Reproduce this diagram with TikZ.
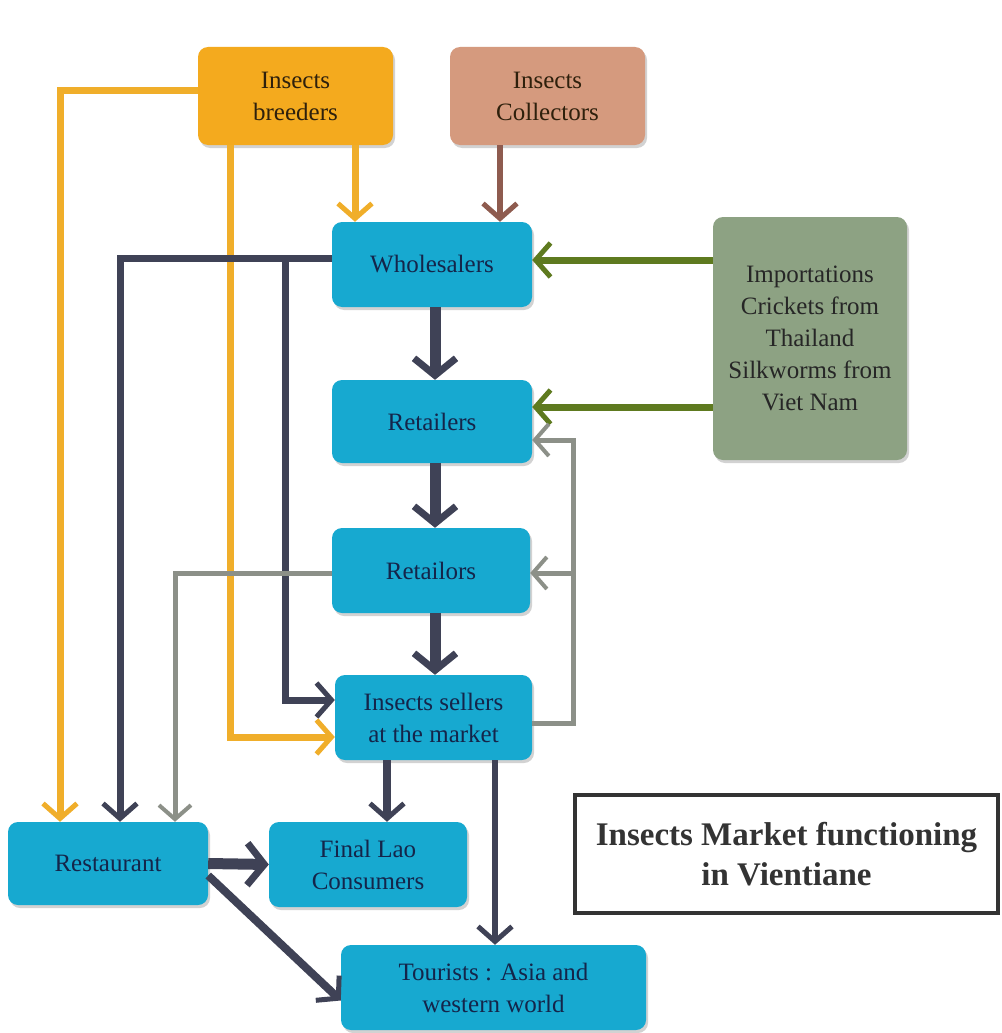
\documentclass[tikz,border=0pt]{standalone}
\usepackage{fontspec}
\setmainfont{Liberation Serif}
\usetikzlibrary{arrows.meta,shadows}
\definecolor{cyanbox}{HTML}{17A9D0}
\definecolor{orangebox}{HTML}{F4AA1E}
\definecolor{salmonbox}{HTML}{D59A7E}
\definecolor{sagebox}{HTML}{8DA283}
\definecolor{darkline}{HTML}{3F4256}
\definecolor{orangeline}{HTML}{F0AE2A}
\definecolor{brownline}{HTML}{8E5B4F}
\definecolor{greenline}{HTML}{5E7A1F}
\definecolor{greyline}{HTML}{8C9088}
\definecolor{navytext}{HTML}{14254A}
\definecolor{browntext}{HTML}{2E200C}
\definecolor{titlegrey}{HTML}{333333}
\begin{document}
\begin{tikzpicture}[x=1pt,y=-1pt,
  boxbase/.style={rounded corners=10pt, inner sep=0pt, align=center,
    font=\fontsize{25}{32}\selectfont,
    drop shadow={opacity=0.35, shadow xshift=2pt, shadow yshift=-3pt}},
  cbox/.style={boxbase, fill=cyanbox, text=navytext},
  obox/.style={boxbase, fill=orangebox, text=browntext},
  sbox/.style={boxbase, fill=salmonbox, text=browntext},
  gbox/.style={boxbase, fill=sagebox, text=black!85},
  tip/.style={-{Straight Barb[length=15pt,width=34pt,line width=5pt]}},
  bigtip/.style={-{Straight Barb[length=17pt,width=42pt,line width=7pt]}},
  thintip/.style={-{Straight Barb[length=14pt,width=32pt,line width=4pt]}},
  darkthick/.style={draw=darkline, line width=11pt, bigtip},
  darkmid/.style={draw=darkline, line width=7pt, tip},
  oline/.style={draw=orangeline, line width=7pt, tip},
  bline/.style={draw=brownline, line width=6pt, tip},
  gline/.style={draw=greenline, line width=7pt, tip},
  grline/.style={draw=greyline, line width=5pt, thintip},
]
\useasboundingbox (0,0) rectangle (1001,1033);
\fill[white] (0,0) rectangle (1001,1033);

% nodes
\node[obox, minimum width=195pt, minimum height=98pt] (breeders) at (295.5,96) {Insects\\breeders};
\node[sbox, minimum width=195pt, minimum height=98pt] (collectors) at (547.5,96) {Insects\\Collectors};
\node[cbox, minimum width=200pt, minimum height=85pt] (wholesalers) at (432,264.5) {Wholesalers};
\node[cbox, minimum width=200pt, minimum height=83pt] (ret1) at (432,421.5) {Retailers};
\node[cbox, minimum width=198pt, minimum height=85pt] (ret2) at (431,570.5) {Retailors};
\node[cbox, minimum width=197pt, minimum height=85pt] (sellers) at (433.5,717.5) {Insects sellers\\at the market};
\node[gbox, minimum width=194pt, minimum height=243pt] (import) at (810,338.5) {Importations\\Crickets from\\Thailand\\Silkworms from\\Viet Nam};
\node[cbox, minimum width=200pt, minimum height=83pt] (restaurant) at (108,863.5) {Restaurant};
\node[cbox, minimum width=198pt, minimum height=85pt] (final) at (368,864.5) {Final Lao\\Consumers};
\node[cbox, minimum width=305pt, minimum height=85pt] (tourists) at (493.5,987.5) {Tourists : Asia and\\western world};
\node[draw=titlegrey, line width=4pt, fill=white, minimum width=423pt, minimum height=118pt,
      inner sep=0pt, align=center, text=titlegrey,
      font=\fontsize{33}{40}\selectfont\bfseries] (title) at (786.5,854) {Insects Market functioning\\in Vientiane};

% bend coordinates
\coordinate (oL) at (60,90);
\coordinate (oD) at (355,0);
\coordinate (oS) at (230,737);
\coordinate (bD) at (500,0);
\coordinate (dL) at (120,258);
\coordinate (dS) at (285,700);
\coordinate (g1) at (0,260);
\coordinate (g2) at (0,407);
\coordinate (grT) at (573,440);
\coordinate (grM) at (573,573);
\coordinate (grB) at (573,723);
\coordinate (gL) at (175,573);
\coordinate (vC) at (435,0);
\coordinate (vF) at (387,0);
\coordinate (vT) at (495,0);

% orange connectors
\draw[oline] (breeders.west |- oL) -- (oL) -- (oL |- restaurant.north);
\draw[oline] (oD |- breeders.south) -- (oD |- wholesalers.north);
\draw[oline] (oS |- breeders.south) -- (oS) -- (oS -| sellers.west);
% brown
\draw[bline] (bD |- collectors.south) -- (bD |- wholesalers.north);
% dark from wholesalers to the left
\draw[darkmid] (wholesalers.west |- dL) -- (dL) -- (dL |- restaurant.north);
\draw[darkmid] (dS |- dL) -- (dS) -- (dS -| sellers.west);
% green
\draw[gline] (import.west |- g1) -- (wholesalers.east |- g1);
\draw[gline] (import.west |- g2) -- (ret1.east |- g2);
% grey
\draw[grline] (sellers.east |- grB) -- (grB) -- (grT) -- (ret1.east |- grT);
\draw[grline] (grM) -- (ret2.east |- grM);
\draw[grline] (ret2.west |- gL) -- (gL) -- (gL |- restaurant.north);
% dark main chain
\draw[darkthick] (vC |- wholesalers.south) -- (vC |- ret1.north);
\draw[darkthick] (vC |- ret1.south) -- (vC |- ret2.north);
\draw[darkthick] (vC |- ret2.south) -- (vC |- sellers.north);
\draw[darkline, line width=8pt, tip] (vF |- sellers.south) -- (vF |- final.north);
\draw[darkline, line width=6pt, tip] (vT |- sellers.south) -- (vT |- tourists.north);
\draw[darkthick] (restaurant.east) -- (final.west);
\draw[darkline, line width=8pt, tip] ([yshift=-12pt]restaurant.east) -- ([yshift=-13pt]tourists.west);
\end{tikzpicture}
\end{document}
